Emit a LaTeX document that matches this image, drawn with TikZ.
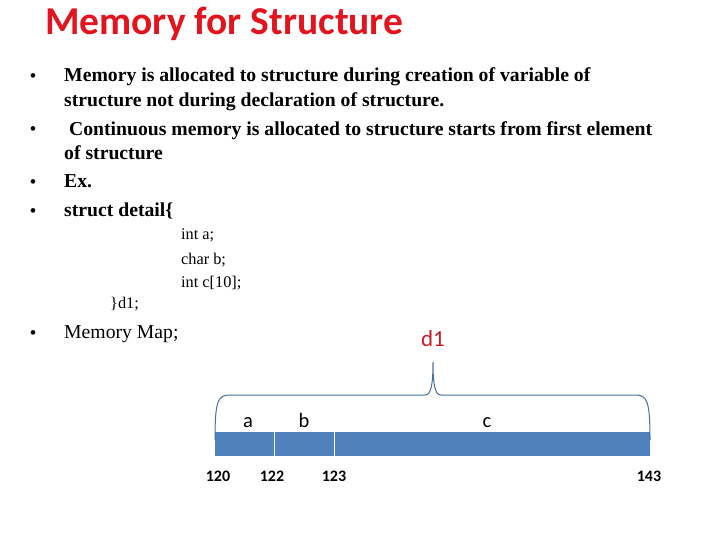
\documentclass[tikz,border=0pt]{standalone}
\usepackage{fontspec}
\setmainfont{Liberation Serif}
\newfontfamily\carl{Carlito}
\definecolor{tred}{RGB}{226,20,30}
\definecolor{dred}{RGB}{200,30,40}
\definecolor{barblue}{RGB}{79,129,189}
\definecolor{brace}{RGB}{70,110,160}
\begin{document}
\begin{tikzpicture}[x=1pt,y=-1pt,
  bul/.style={anchor=base west,inner sep=0,font=\fontsize{17}{20}\selectfont\bfseries},
  txt/.style={anchor=base west,inner sep=0,font=\fontsize{19.7}{23}\selectfont\bfseries},
  code/.style={anchor=base west,inner sep=0,font=\fontsize{16.3}{19}\selectfont},
  lab/.style={anchor=base,inner sep=0,font=\carl\fontsize{20.5}{24}\selectfont},
  num/.style={anchor=base,inner sep=0,font=\carl\bfseries\fontsize{16}{19}\selectfont}]
\useasboundingbox (0,0) rectangle (720,540);
\node[anchor=base west,inner sep=0,text=tred,font=\carl\bfseries\fontsize{39.5}{44}\selectfont] (title) at (45,35) {Memory for Structure};
\node[bul] (b1) at (30,82) {•};
\node[txt] (t1) at (64,82) {Memory is allocated to structure during creation of variable of};
\node[txt] (t1b) at (64,107) {structure not during declaration of structure.};
\node[bul] (b2) at (30,135) {•};
\node[txt] (t2) at (64,136) {\ Continuous memory is allocated to structure starts from first element};
\node[txt] (t2b) at (64,160) {of structure};
\node[bul] (b3) at (30,188) {•};
\node[txt] (t3) at (64,188) {Ex.};
\node[bul] (b4) at (30,216) {•};
\node[txt] (t4) at (64,216) {struct detail\{};
\node[code] (c1) at (181,240) {int a;};
\node[code] (c2) at (181,264) {char b;};
\node[code] (c3) at (181,287) {int c[10];};
\node[code] (c4) at (110,308) {\}d1;};
\node[bul] (b5) at (30,338) {•};
\node[anchor=base west,inner sep=0,font=\fontsize{19.7}{23}\selectfont] (t5) at (64,338) {Memory Map;};
\node[lab,text=dred,font=\carl\fontsize{23}{27}\selectfont] (d1) at (433,346) {d1};
\fill[barblue] (215,432) rectangle (650,456);
\draw[white,line width=1pt] (274,432) -- (274,456) (334,432) -- (334,456);
\draw[brace,line width=1pt] (215,440) .. controls (215,400) and (218,395) .. (230,395) -- (425,395)
  .. controls (431,395) and (433,385) .. (433,362)
  .. controls (433,385) and (435,395) .. (441,395) -- (635,395)
  .. controls (647,395) and (650,400) .. (650,440);
\node[lab] (la) at (248,427) {a};
\node[lab] (lb) at (304,427) {b};
\node[lab] (lc) at (487,427) {c};
\node[num] (n1) at (218,481) {120};
\node[num] (n2) at (272,481) {122};
\node[num] (n3) at (334,481) {123};
\node[num] (n4) at (649,481) {143};
\end{tikzpicture}
\end{document}
